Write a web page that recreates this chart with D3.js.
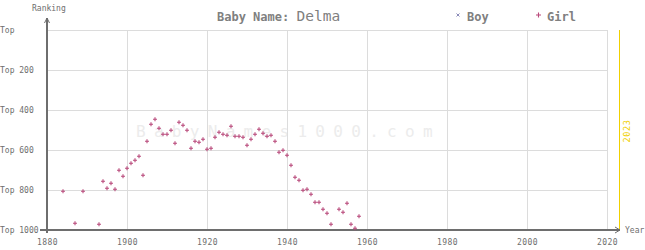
<!DOCTYPE html>
<html>
<head>
<meta charset="utf-8">
<script src="https://cdn.jsdelivr.net/npm/d3@7"></script>
<style>
  html, body { margin: 0; padding: 0; background: #fff; }
  svg { display: block; }
  text { font-family: "DejaVu Sans Mono", "Liberation Mono", monospace; }
</style>
</head>
<body>
<svg id="chart" width="645" height="250"></svg>
<script>
// ---- data ----
const girlYears = [1884,1887,1889,1893,1894,1895,1896,1897,1898,1899,1900,1901,1902,1903,1904,1905,1906,1907,1908,1909,1910,1911,1912,1913,1914,1915,1916,1917,1918,1919,1920,1921,1922,1923,1924,1925,1926,1927,1928,1929,1930,1931,1932,1933,1934,1935,1936,1937,1938,1939,1940,1941,1942,1943,1944,1945,1946,1947,1948,1949,1950,1951,1953,1954,1955,1956,1957,1958];
const girlRanks = [806,966,806,971,756,791,766,796,701,731,691,666,651,631,726,556,471,446,491,521,521,501,566,461,476,501,591,556,561,546,596,591,536,511,521,526,481,531,531,536,576,546,521,496,516,531,526,556,611,601,626,676,736,751,801,796,821,861,861,896,916,971,896,911,866,971,991,931];
const boyYears = [];
const boyRanks = [];
const xTicks = [1880,1900,1920,1940,1960,1980,2000,2020];
const yTicks = [0,200,400,600,800,1000];
const yTickLabels = ["Top","Top 200","Top 400","Top 600","Top 800","Top 1000"];
const currentYear = 2023;
const babyName = "Delma";

// ---- drawing ----
const svg = d3.select("#chart");
const x = d3.scaleLinear().domain([1880, 2020]).range([47, 607]);
const y = d3.scaleLinear().domain([0, 1000]).range([30, 230]);

const gridColor = "#dcdcdc", axisColor = "#6e6e6e", textColor = "#6e6e6e";
const girlColor = "#b9497b", boyColor = "#8a8ab8", yearColor = "#f0d000";

// watermark
svg.append("text")
  .attr("x", 136).attr("y", 137)
  .attr("font-size", 16)
  .attr("letter-spacing", 8.3)
  .attr("fill", "#ececec")
  .text("BabyNames1000.com");

// grid
const grid = svg.append("g").attr("shape-rendering", "crispEdges");
grid.selectAll("line.h").data(yTicks.slice(0, -1)).join("line")
  .attr("x1", x(1880)).attr("x2", x(2020))
  .attr("y1", d => y(d)).attr("y2", d => y(d))
  .attr("stroke", gridColor).attr("stroke-width", 1);
grid.selectAll("line.v").data(xTicks.slice(1)).join("line")
  .attr("x1", d => x(d)).attr("x2", d => x(d))
  .attr("y1", y(0)).attr("y2", y(1000))
  .attr("stroke", gridColor).attr("stroke-width", 1);

// current year line
svg.append("line")
  .attr("x1", x(currentYear)).attr("x2", x(currentYear))
  .attr("y1", y(0)).attr("y2", y(1000))
  .attr("stroke", yearColor).attr("stroke-width", 1)
  .attr("shape-rendering", "crispEdges");
svg.append("text")
  .attr("transform", `translate(${x(currentYear) + 11},${(y(0) + y(1000)) / 2 + 1}) rotate(-90)`)
  .attr("text-anchor", "middle")
  .attr("font-size", 8.5).attr("letter-spacing", 0.6)
  .attr("fill", yearColor)
  .text(String(currentYear));

// axes
const yAxis = d3.axisLeft(y).tickValues(yTicks).tickSize(0)
  .tickFormat((d, i) => yTickLabels[i]);
const gy = svg.append("g").attr("transform", `translate(${x(1880)},0)`).call(yAxis);
gy.select(".domain").remove();
gy.selectAll("text")
  .attr("text-anchor", "start").attr("x", -x(1880)).attr("dy", "0.32em")
  .attr("font-size", 8).attr("fill", textColor)
  .style("font-family", "'DejaVu Sans Mono', monospace");

const xAxis = d3.axisBottom(x).tickValues(xTicks).tickSize(0).tickFormat(d3.format("d"));
const gx = svg.append("g").attr("transform", `translate(0,${y(1000)})`).call(xAxis);
gx.select(".domain").remove();
gx.selectAll("text")
  .attr("y", 9).attr("dy", "0.71em")
  .attr("font-size", 8).attr("letter-spacing", 0.4).attr("fill", textColor)
  .style("font-family", "'DejaVu Sans Mono', monospace");

// axis lines
const ax = svg.append("g").attr("stroke", axisColor).attr("fill", "none").attr("shape-rendering", "crispEdges");
ax.append("line").attr("x1", 40).attr("x2", 620).attr("y1", y(1000)).attr("y2", y(1000)).attr("stroke-width", 1.5);
ax.append("line").attr("x1", x(1880)).attr("x2", x(1880)).attr("y1", 18).attr("y2", 233).attr("stroke-width", 1.5);
svg.append("path").attr("d", `M${x(1880)-2.5},23 L${x(1880)},18 L${x(1880)+2.5},23`)
  .attr("stroke", axisColor).attr("fill", "none").attr("stroke-width", 1);
svg.append("path").attr("d", `M615,${y(1000)-3} L620,${y(1000)} L615,${y(1000)+3}`)
  .attr("stroke", axisColor).attr("fill", "none").attr("stroke-width", 1);

svg.append("text").attr("x", 32).attr("y", 11).attr("font-size", 8).attr("fill", textColor).text("Ranking");
svg.append("text").attr("x", 625).attr("y", y(1000) + 3).attr("font-size", 8).attr("fill", textColor).text("Year");

// title
const title = svg.append("text").attr("x", 217).attr("y", 21).attr("fill", "#808080");
title.append("tspan").attr("font-size", 12).attr("font-weight", "bold").text("Baby Name: ");
title.append("tspan").attr("font-size", 14.5).text(babyName);

// legend
svg.append("path").attr("d", "M456.5,13.5 l3,3 M459.5,13.5 l-3,3").attr("stroke", boyColor).attr("stroke-width", 1);
svg.append("text").attr("x", 467).attr("y", 21).attr("font-size", 12).attr("font-weight", "bold").attr("fill", "#808080").text("Boy");
svg.append("path").attr("d", "M536,15 h5 M538.5,12.5 v5").attr("stroke", girlColor).attr("stroke-width", 1.1);
svg.append("text").attr("x", 547).attr("y", 21).attr("font-size", 12).attr("font-weight", "bold").attr("fill", "#808080").text("Girl");

// points
const girls = girlYears.map((yr, i) => ({ year: yr, rank: girlRanks[i] }));
svg.append("g").selectAll("path").data(girls).join("path")
  .attr("d", d => `M${x(d.year) - 2},${y(d.rank)} h4 M${x(d.year)},${y(d.rank) - 2} v4`)
  .attr("stroke", girlColor).attr("stroke-width", 1.1).attr("fill", "none");
const boys = boyYears.map((yr, i) => ({ year: yr, rank: boyRanks[i] }));
svg.append("g").selectAll("path").data(boys).join("path")
  .attr("d", d => `M${x(d.year) - 1.5},${y(d.rank) - 1.5} l3,3 M${x(d.year) + 1.5},${y(d.rank) - 1.5} l-3,3`)
  .attr("stroke", boyColor).attr("stroke-width", 1).attr("fill", "none");
</script>
</body>
</html>
